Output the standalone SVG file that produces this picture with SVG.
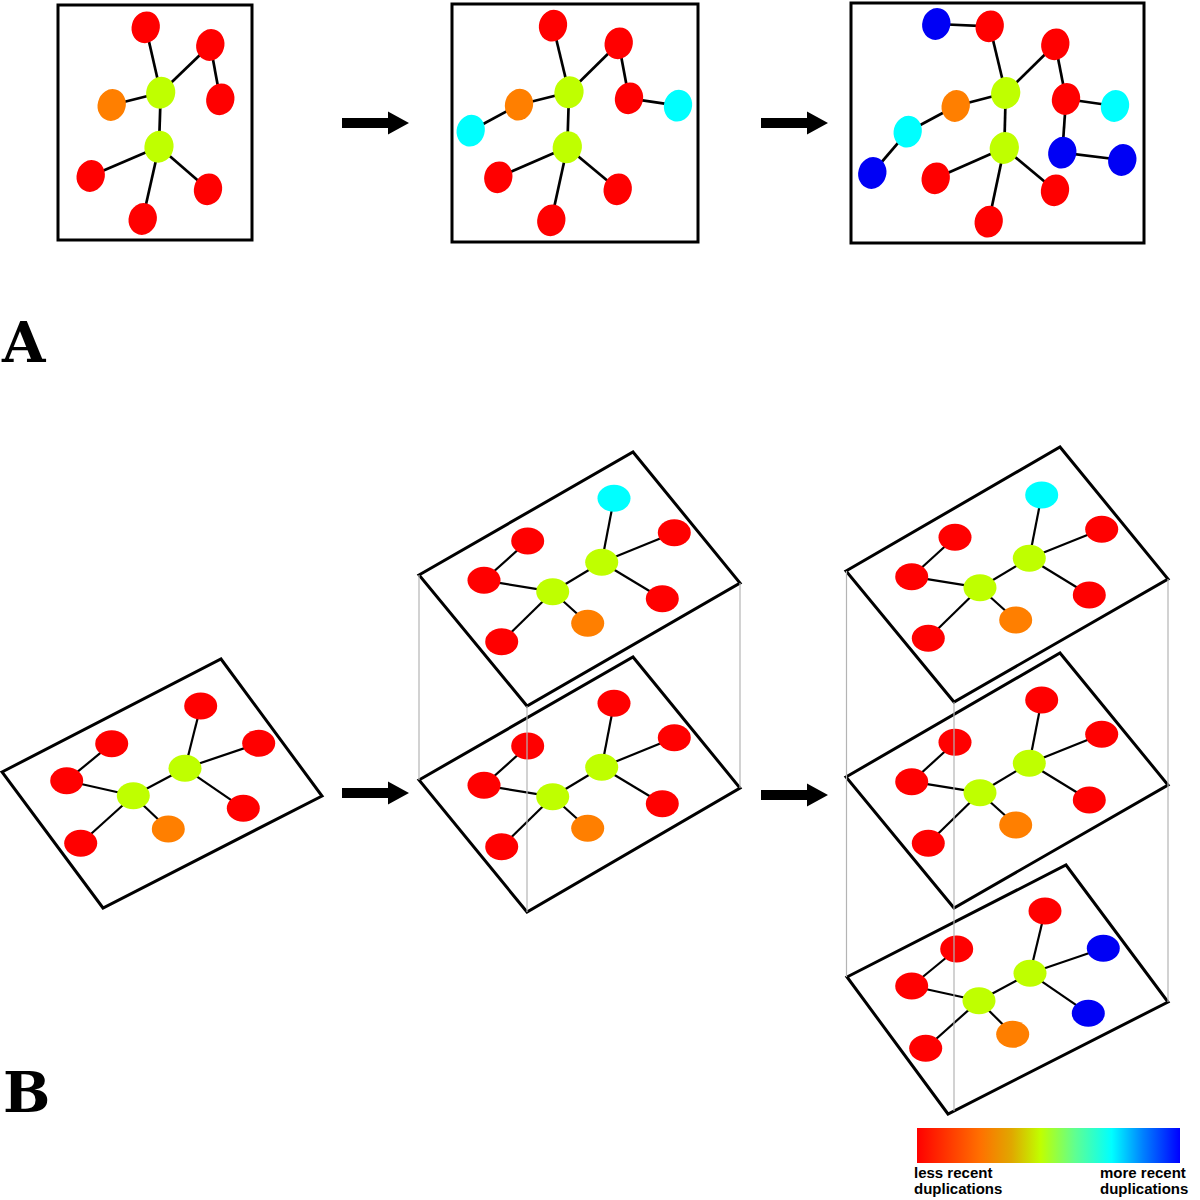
<svg xmlns="http://www.w3.org/2000/svg" width="1200" height="1200" viewBox="0 0 1200 1200">
<defs>
<style>
.r{fill:#ff0000}.o{fill:#ff7f00}.g{fill:#bfff00}.c{fill:#00ffff}.b{fill:#0000f5}
.na{transform-box:fill-box;transform-origin:center;transform:rotate(15deg)}
.e{stroke:#000;stroke-width:2.2;fill:none}
.ea{stroke-width:2.7}
.frame{fill:none;stroke:#000;stroke-width:3;stroke-linejoin:miter}
.guide{stroke:#b4b4b4;stroke-width:1.2}
.lbl{font-family:"DejaVu Serif","Liberation Serif",serif;font-weight:bold;font-size:56px;fill:#000}
.leg{font-family:"Liberation Sans",Arial,sans-serif;font-weight:bold;font-size:15px;fill:#000}
</style>
<path id="arrow" d="M0,-5 H46 V-11.5 L67,0 L46,11.5 V5 H0 Z" fill="#000"/>
<linearGradient id="scale" x1="0" y1="0" x2="1" y2="0">
<stop offset="0" stop-color="#ff0000"/>
<stop offset="0.24" stop-color="#ff7000"/>
<stop offset="0.36" stop-color="#e0a800"/>
<stop offset="0.47" stop-color="#c0ff00"/>
<stop offset="0.6" stop-color="#60ff90"/>
<stop offset="0.74" stop-color="#00ffff"/>
<stop offset="0.86" stop-color="#0080ff"/>
<stop offset="1" stop-color="#0000ff"/>
</linearGradient>
</defs>
<rect width="1200" height="1200" fill="#fff"/>

<!-- frames -->
<g id="frames">
<rect class="frame" x="58" y="5" width="194" height="235"/>
<rect class="frame" x="452" y="4" width="246" height="238"/>
<rect class="frame" x="851" y="3" width="293" height="240"/>
<polygon class="frame" points="2,772 221,659 322,796 103,908"/>
<polygon class="frame" points="419,575 633,452 740,583 527,706"/>
<polygon class="frame" points="419,780 633,657 740,788 527,912"/>
<polygon class="frame" points="846,571 1060,447 1168,579 954,702"/>
<polygon class="frame" points="846,777 1060,653 1168,785 954,908"/>
<polygon class="frame" points="847,977 1066,865 1168,1002 948,1114"/>
</g>

<!-- connectors -->
<g id="connectors" class="e">
<g class="ea">
<!-- A1 -->
<line x1="145.7" y1="27.3" x2="160.7" y2="92.7"/>
<line x1="210.3" y1="45" x2="160.7" y2="92.7"/>
<line x1="210.3" y1="45" x2="220.3" y2="99.3"/>
<line x1="111.7" y1="105" x2="160.7" y2="92.7"/>
<line x1="160.7" y1="92.7" x2="159" y2="146.7"/>
<line x1="159" y1="146.7" x2="90.7" y2="176"/>
<line x1="159" y1="146.7" x2="208" y2="189.3"/>
<line x1="159" y1="146.7" x2="142.7" y2="219"/>
<!-- A2 -->
<line x1="553" y1="25.7" x2="569" y2="92.3"/>
<line x1="618.7" y1="43.3" x2="569" y2="92.3"/>
<line x1="618.7" y1="43.3" x2="629" y2="98.3"/>
<line x1="629" y1="98.3" x2="678" y2="105.7"/>
<line x1="519" y1="104.7" x2="569" y2="92.3"/>
<line x1="519" y1="104.7" x2="470.7" y2="130.7"/>
<line x1="569" y1="92.3" x2="567.3" y2="147.3"/>
<line x1="567.3" y1="147.3" x2="498.3" y2="177.3"/>
<line x1="567.3" y1="147.3" x2="617.7" y2="189.3"/>
<line x1="567.3" y1="147.3" x2="551.3" y2="220.3"/>
<!-- A3 -->
<line x1="936.3" y1="24" x2="989.7" y2="26.3"/>
<line x1="989.7" y1="26.3" x2="1005.7" y2="93"/>
<line x1="1055.3" y1="44.3" x2="1005.7" y2="93"/>
<line x1="1055.3" y1="44.3" x2="1066" y2="99"/>
<line x1="1066" y1="99" x2="1115" y2="106"/>
<line x1="1066" y1="99" x2="1062.3" y2="152.7"/>
<line x1="1062.3" y1="152.7" x2="1122.3" y2="160"/>
<line x1="955.7" y1="106" x2="1005.7" y2="93"/>
<line x1="955.7" y1="106" x2="907.7" y2="131.7"/>
<line x1="907.7" y1="131.7" x2="872.3" y2="173"/>
<line x1="1005.7" y1="93" x2="1004.3" y2="148"/>
<line x1="1004.3" y1="148" x2="935.7" y2="178.3"/>
<line x1="1004.3" y1="148" x2="1055" y2="190.3"/>
<line x1="1004.3" y1="148" x2="988.7" y2="221.7"/>
</g>
<!-- B1 -->
<line x1="200.7" y1="706" x2="185" y2="768.3"/>
<line x1="258.7" y1="743.3" x2="185" y2="768.3"/>
<line x1="243.3" y1="808.3" x2="185" y2="768.3"/>
<line x1="185" y1="768.3" x2="133.3" y2="795.7"/>
<line x1="111.7" y1="743.7" x2="66.7" y2="780.7"/>
<line x1="66.7" y1="780.7" x2="133.3" y2="795.7"/>
<line x1="133.3" y1="795.7" x2="80.7" y2="843.3"/>
<line x1="133.3" y1="795.7" x2="168.3" y2="829"/>
<!-- B2 top -->
<line x1="614" y1="498.3" x2="601.7" y2="562.3"/>
<line x1="674.3" y1="532.7" x2="601.7" y2="562.3"/>
<line x1="662.3" y1="598.7" x2="601.7" y2="562.3"/>
<line x1="601.7" y1="562.3" x2="552.7" y2="591.7"/>
<line x1="527.7" y1="541" x2="484" y2="580.3"/>
<line x1="484" y1="580.3" x2="552.7" y2="591.7"/>
<line x1="552.7" y1="591.7" x2="501.7" y2="641.7"/>
<line x1="552.7" y1="591.7" x2="587.7" y2="623.3"/>
<!-- B2 bottom -->
<line x1="614" y1="703.3" x2="601.7" y2="767.3"/>
<line x1="674.3" y1="737.7" x2="601.7" y2="767.3"/>
<line x1="662.3" y1="803.7" x2="601.7" y2="767.3"/>
<line x1="601.7" y1="767.3" x2="552.7" y2="796.7"/>
<line x1="527.7" y1="746" x2="484" y2="785.3"/>
<line x1="484" y1="785.3" x2="552.7" y2="796.7"/>
<line x1="552.7" y1="796.7" x2="501.7" y2="846.7"/>
<line x1="552.7" y1="796.7" x2="587.7" y2="828.3"/>
<!-- B3 top -->
<line x1="1041.7" y1="495" x2="1029.3" y2="558.3"/>
<line x1="1101.7" y1="529.3" x2="1029.3" y2="558.3"/>
<line x1="1089.3" y1="595" x2="1029.3" y2="558.3"/>
<line x1="1029.3" y1="558.3" x2="980" y2="587.7"/>
<line x1="955" y1="537.3" x2="911.7" y2="576.7"/>
<line x1="911.7" y1="576.7" x2="980" y2="587.7"/>
<line x1="980" y1="587.7" x2="928.3" y2="638.3"/>
<line x1="980" y1="587.7" x2="1015.7" y2="620"/>
<!-- B3 middle -->
<line x1="1041.7" y1="700" x2="1029.3" y2="763.3"/>
<line x1="1101.7" y1="734.3" x2="1029.3" y2="763.3"/>
<line x1="1089.3" y1="800" x2="1029.3" y2="763.3"/>
<line x1="1029.3" y1="763.3" x2="980" y2="792.7"/>
<line x1="955" y1="742.3" x2="911.7" y2="781.7"/>
<line x1="911.7" y1="781.7" x2="980" y2="792.7"/>
<line x1="980" y1="792.7" x2="928.3" y2="843.3"/>
<line x1="980" y1="792.7" x2="1015.7" y2="825"/>
<!-- B3 bottom -->
<line x1="1045" y1="911" x2="1030" y2="973.3"/>
<line x1="1103.3" y1="948.3" x2="1030" y2="973.3"/>
<line x1="1088.3" y1="1013.3" x2="1030" y2="973.3"/>
<line x1="1030" y1="973.3" x2="979" y2="1000.7"/>
<line x1="956.7" y1="949" x2="911.7" y2="986"/>
<line x1="911.7" y1="986" x2="979" y2="1000.7"/>
<line x1="979" y1="1000.7" x2="925.7" y2="1048.3"/>
<line x1="979" y1="1000.7" x2="1012.7" y2="1034.3"/>
</g>

<!-- nodes: panel A1 -->
<g id="A1-nodes">
<g id="A1-n1"><ellipse class="r na" cx="145.7" cy="27.3" rx="14" ry="16"/></g>
<g id="A1-n2"><ellipse class="r na" cx="210.3" cy="45" rx="14" ry="16"/></g>
<g id="A1-n3"><ellipse class="r na" cx="220.3" cy="99.3" rx="14" ry="16"/></g>
<g id="A1-n4"><ellipse class="g na" cx="160.7" cy="92.7" rx="14.5" ry="16"/></g>
<g id="A1-n5"><ellipse class="o na" cx="111.7" cy="105" rx="14" ry="16"/></g>
<g id="A1-n6"><ellipse class="g na" cx="159" cy="146.7" rx="14.5" ry="16"/></g>
<g id="A1-n7"><ellipse class="r na" cx="90.7" cy="176" rx="14" ry="16"/></g>
<g id="A1-n8"><ellipse class="r na" cx="208" cy="189.3" rx="14" ry="16"/></g>
<g id="A1-n9"><ellipse class="r na" cx="142.7" cy="219" rx="14" ry="16"/></g>
</g>
<!-- nodes: panel A2 -->
<g id="A2-nodes">
<g id="A2-n1"><ellipse class="r na" cx="553" cy="25.7" rx="14" ry="16"/></g>
<g id="A2-n2"><ellipse class="r na" cx="618.7" cy="43.3" rx="14" ry="16"/></g>
<g id="A2-n3"><ellipse class="r na" cx="629" cy="98.3" rx="14" ry="16"/></g>
<g id="A2-n4"><ellipse class="c na" cx="678" cy="105.7" rx="14" ry="16"/></g>
<g id="A2-n5"><ellipse class="g na" cx="569" cy="92.3" rx="14.5" ry="16"/></g>
<g id="A2-n6"><ellipse class="o na" cx="519" cy="104.7" rx="14" ry="16"/></g>
<g id="A2-n7"><ellipse class="c na" cx="470.7" cy="130.7" rx="14" ry="16"/></g>
<g id="A2-n8"><ellipse class="g na" cx="567.3" cy="147.3" rx="14.5" ry="16"/></g>
<g id="A2-n9"><ellipse class="r na" cx="498.3" cy="177.3" rx="14" ry="16"/></g>
<g id="A2-n10"><ellipse class="r na" cx="617.7" cy="189.3" rx="14" ry="16"/></g>
<g id="A2-n11"><ellipse class="r na" cx="551.3" cy="220.3" rx="14" ry="16"/></g>
</g>
<!-- nodes: panel A3 -->
<g id="A3-nodes">
<g id="A3-n1"><ellipse class="b na" cx="936.3" cy="24" rx="14" ry="16"/></g>
<g id="A3-n2"><ellipse class="r na" cx="989.7" cy="26.3" rx="14" ry="16"/></g>
<g id="A3-n3"><ellipse class="r na" cx="1055.3" cy="44.3" rx="14" ry="16"/></g>
<g id="A3-n4"><ellipse class="g na" cx="1005.7" cy="93" rx="14.5" ry="16"/></g>
<g id="A3-n5"><ellipse class="o na" cx="955.7" cy="106" rx="14" ry="16"/></g>
<g id="A3-n6"><ellipse class="r na" cx="1066" cy="99" rx="14" ry="16"/></g>
<g id="A3-n7"><ellipse class="c na" cx="1115" cy="106" rx="14" ry="16"/></g>
<g id="A3-n8"><ellipse class="c na" cx="907.7" cy="131.7" rx="14" ry="16"/></g>
<g id="A3-n9"><ellipse class="b na" cx="1062.3" cy="152.7" rx="14" ry="16"/></g>
<g id="A3-n10"><ellipse class="b na" cx="1122.3" cy="160" rx="14" ry="16"/></g>
<g id="A3-n11"><ellipse class="g na" cx="1004.3" cy="148" rx="14.5" ry="16"/></g>
<g id="A3-n12"><ellipse class="b na" cx="872.3" cy="173" rx="14" ry="16"/></g>
<g id="A3-n13"><ellipse class="r na" cx="935.7" cy="178.3" rx="14" ry="16"/></g>
<g id="A3-n14"><ellipse class="r na" cx="1055" cy="190.3" rx="14" ry="16"/></g>
<g id="A3-n15"><ellipse class="r na" cx="988.7" cy="221.7" rx="14" ry="16"/></g>
</g>
<!-- nodes: panel B1 -->
<g id="B1-nodes">
<g id="B1-n1"><ellipse class="r" cx="200.7" cy="706" rx="16.5" ry="13.5"/></g>
<g id="B1-n2"><ellipse class="r" cx="258.7" cy="743.3" rx="16.5" ry="13.5"/></g>
<g id="B1-n3"><ellipse class="r" cx="111.7" cy="743.7" rx="16.5" ry="13.5"/></g>
<g id="B1-n4"><ellipse class="r" cx="66.7" cy="780.7" rx="16.5" ry="13.5"/></g>
<g id="B1-n5"><ellipse class="g" cx="185" cy="768.3" rx="16.5" ry="13.5"/></g>
<g id="B1-n6"><ellipse class="g" cx="133.3" cy="795.7" rx="16.5" ry="13.5"/></g>
<g id="B1-n7"><ellipse class="r" cx="243.3" cy="808.3" rx="16.5" ry="13.5"/></g>
<g id="B1-n8"><ellipse class="o" cx="168.3" cy="829" rx="16.5" ry="13.5"/></g>
<g id="B1-n9"><ellipse class="r" cx="80.7" cy="843.3" rx="16.5" ry="13.5"/></g>
</g>
<!-- nodes: panel B2 top -->
<g id="B2t-nodes">
<g id="B2t-n1"><ellipse class="c" cx="614" cy="498.3" rx="16.5" ry="13.5"/></g>
<g id="B2t-n2"><ellipse class="r" cx="674.3" cy="532.7" rx="16.5" ry="13.5"/></g>
<g id="B2t-n3"><ellipse class="r" cx="527.7" cy="541" rx="16.5" ry="13.5"/></g>
<g id="B2t-n4"><ellipse class="g" cx="601.7" cy="562.3" rx="16.5" ry="13.5"/></g>
<g id="B2t-n5"><ellipse class="r" cx="484" cy="580.3" rx="16.5" ry="13.5"/></g>
<g id="B2t-n6"><ellipse class="g" cx="552.7" cy="591.7" rx="16.5" ry="13.5"/></g>
<g id="B2t-n7"><ellipse class="r" cx="662.3" cy="598.7" rx="16.5" ry="13.5"/></g>
<g id="B2t-n8"><ellipse class="o" cx="587.7" cy="623.3" rx="16.5" ry="13.5"/></g>
<g id="B2t-n9"><ellipse class="r" cx="501.7" cy="641.7" rx="16.5" ry="13.5"/></g>
</g>
<!-- nodes: panel B2 bottom -->
<g id="B2b-nodes">
<g id="B2b-n1"><ellipse class="r" cx="614" cy="703.3" rx="16.5" ry="13.5"/></g>
<g id="B2b-n2"><ellipse class="r" cx="674.3" cy="737.7" rx="16.5" ry="13.5"/></g>
<g id="B2b-n3"><ellipse class="r" cx="527.7" cy="746" rx="16.5" ry="13.5"/></g>
<g id="B2b-n4"><ellipse class="g" cx="601.7" cy="767.3" rx="16.5" ry="13.5"/></g>
<g id="B2b-n5"><ellipse class="r" cx="484" cy="785.3" rx="16.5" ry="13.5"/></g>
<g id="B2b-n6"><ellipse class="g" cx="552.7" cy="796.7" rx="16.5" ry="13.5"/></g>
<g id="B2b-n7"><ellipse class="r" cx="662.3" cy="803.7" rx="16.5" ry="13.5"/></g>
<g id="B2b-n8"><ellipse class="o" cx="587.7" cy="828.3" rx="16.5" ry="13.5"/></g>
<g id="B2b-n9"><ellipse class="r" cx="501.7" cy="846.7" rx="16.5" ry="13.5"/></g>
</g>
<!-- nodes: panel B3 top -->
<g id="B3t-nodes">
<g id="B3t-n1"><ellipse class="c" cx="1041.7" cy="495" rx="16.5" ry="13.5"/></g>
<g id="B3t-n2"><ellipse class="r" cx="1101.7" cy="529.3" rx="16.5" ry="13.5"/></g>
<g id="B3t-n3"><ellipse class="r" cx="955" cy="537.3" rx="16.5" ry="13.5"/></g>
<g id="B3t-n4"><ellipse class="g" cx="1029.3" cy="558.3" rx="16.5" ry="13.5"/></g>
<g id="B3t-n5"><ellipse class="r" cx="911.7" cy="576.7" rx="16.5" ry="13.5"/></g>
<g id="B3t-n6"><ellipse class="g" cx="980" cy="587.7" rx="16.5" ry="13.5"/></g>
<g id="B3t-n7"><ellipse class="r" cx="1089.3" cy="595" rx="16.5" ry="13.5"/></g>
<g id="B3t-n8"><ellipse class="o" cx="1015.7" cy="620" rx="16.5" ry="13.5"/></g>
<g id="B3t-n9"><ellipse class="r" cx="928.3" cy="638.3" rx="16.5" ry="13.5"/></g>
</g>
<!-- nodes: panel B3 middle -->
<g id="B3m-nodes">
<g id="B3m-n1"><ellipse class="r" cx="1041.7" cy="700" rx="16.5" ry="13.5"/></g>
<g id="B3m-n2"><ellipse class="r" cx="1101.7" cy="734.3" rx="16.5" ry="13.5"/></g>
<g id="B3m-n3"><ellipse class="r" cx="955" cy="742.3" rx="16.5" ry="13.5"/></g>
<g id="B3m-n4"><ellipse class="g" cx="1029.3" cy="763.3" rx="16.5" ry="13.5"/></g>
<g id="B3m-n5"><ellipse class="r" cx="911.7" cy="781.7" rx="16.5" ry="13.5"/></g>
<g id="B3m-n6"><ellipse class="g" cx="980" cy="792.7" rx="16.5" ry="13.5"/></g>
<g id="B3m-n7"><ellipse class="r" cx="1089.3" cy="800" rx="16.5" ry="13.5"/></g>
<g id="B3m-n8"><ellipse class="o" cx="1015.7" cy="825" rx="16.5" ry="13.5"/></g>
<g id="B3m-n9"><ellipse class="r" cx="928.3" cy="843.3" rx="16.5" ry="13.5"/></g>
</g>
<!-- nodes: panel B3 bottom -->
<g id="B3b-nodes">
<g id="B3b-n1"><ellipse class="r" cx="1045" cy="911" rx="16.5" ry="13.5"/></g>
<g id="B3b-n2"><ellipse class="b" cx="1103.3" cy="948.3" rx="16.5" ry="13.5"/></g>
<g id="B3b-n3"><ellipse class="r" cx="956.7" cy="949" rx="16.5" ry="13.5"/></g>
<g id="B3b-n4"><ellipse class="g" cx="1030" cy="973.3" rx="16.5" ry="13.5"/></g>
<g id="B3b-n5"><ellipse class="r" cx="911.7" cy="986" rx="16.5" ry="13.5"/></g>
<g id="B3b-n6"><ellipse class="g" cx="979" cy="1000.7" rx="16.5" ry="13.5"/></g>
<g id="B3b-n7"><ellipse class="b" cx="1088.3" cy="1013.3" rx="16.5" ry="13.5"/></g>
<g id="B3b-n8"><ellipse class="o" cx="1012.7" cy="1034.3" rx="16.5" ry="13.5"/></g>
<g id="B3b-n9"><ellipse class="r" cx="925.7" cy="1048.3" rx="16.5" ry="13.5"/></g>
</g>

<!-- stacking guide lines -->
<g id="guides" class="guide">
<line x1="419" y1="575" x2="419" y2="780"/>
<line x1="740" y1="583" x2="740" y2="788"/>
<line x1="527" y1="706" x2="527" y2="912"/>
<line x1="846.5" y1="571" x2="846.5" y2="977"/>
<line x1="1168" y1="579" x2="1168" y2="1002"/>
<line x1="954" y1="702" x2="954" y2="1111"/>
</g>

<!-- arrows -->
<g id="arrows">
<use href="#arrow" x="342" y="123"/>
<use href="#arrow" x="761" y="123"/>
<use href="#arrow" x="342" y="793"/>
<use href="#arrow" x="761" y="795"/>
</g>

<!-- panel labels -->
<text class="lbl" x="2" y="362">A</text>
<text class="lbl" x="3" y="1112">B</text>

<!-- legend -->
<g id="legend">
<rect x="917" y="1128" width="263" height="35" fill="url(#scale)"/>
<text class="leg" x="914" y="1178">less recent</text>
<text class="leg" x="914" y="1194">duplications</text>
<text class="leg" x="1100" y="1178">more recent</text>
<text class="leg" x="1100" y="1194">duplications</text>
</g>
</svg>
